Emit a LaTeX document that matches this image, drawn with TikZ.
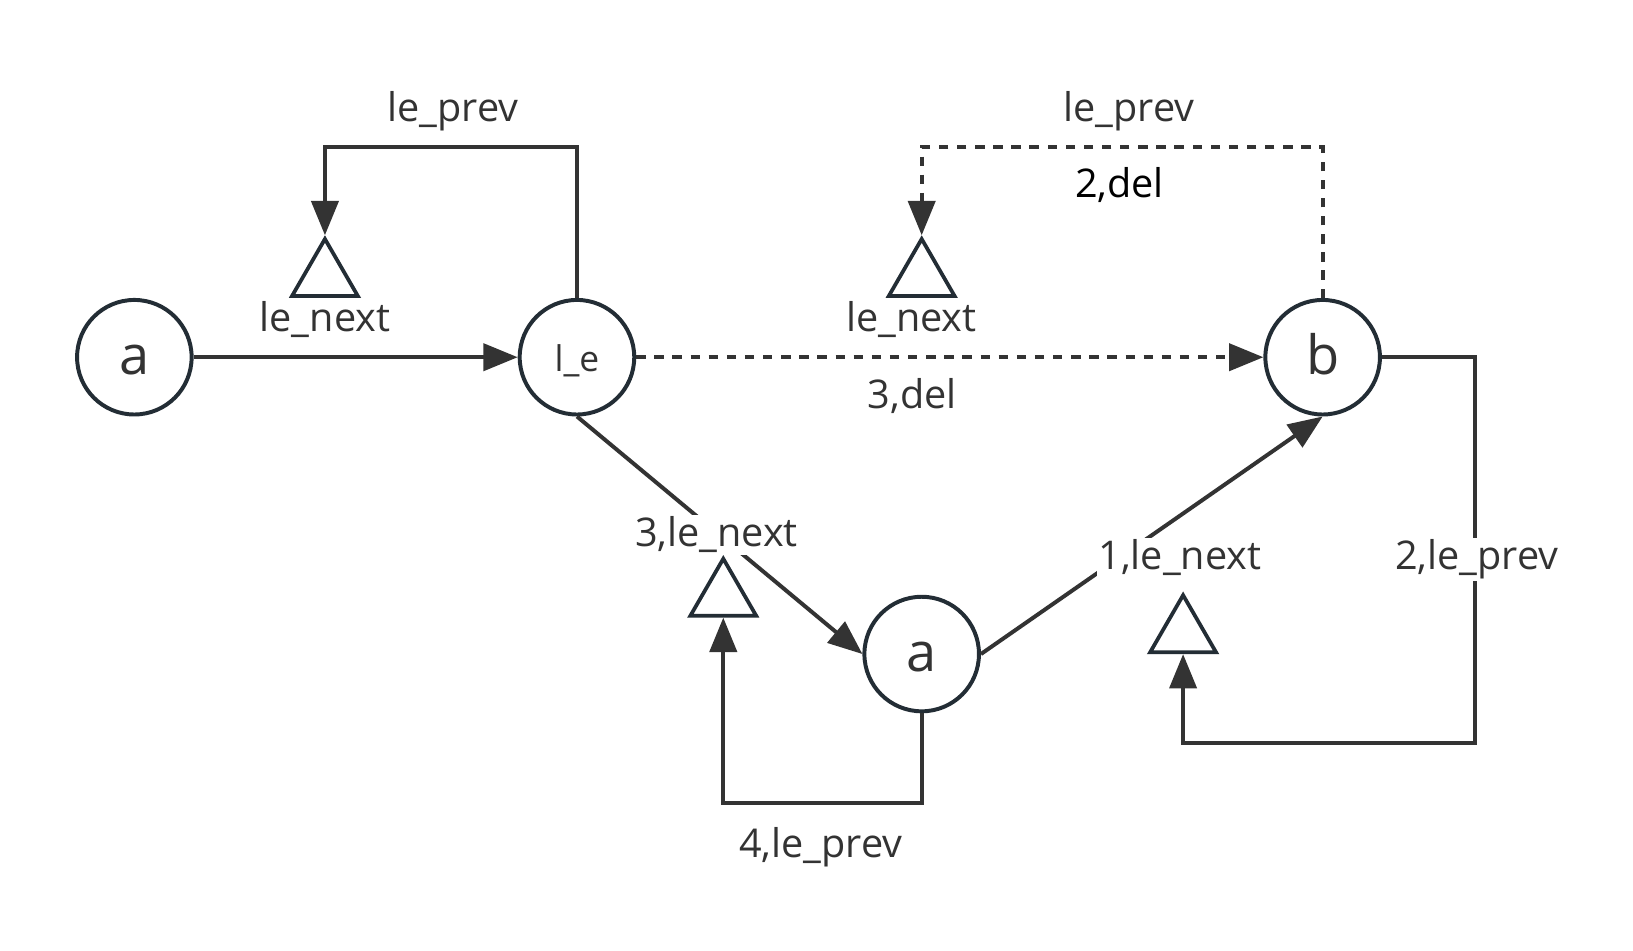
\documentclass[tikz,border=0pt]{standalone}
\usepackage{fontspec}
\setmainfont{Open Sans}
\usetikzlibrary{arrows.meta,shapes.geometric}
\definecolor{ln}{HTML}{333333}
\definecolor{sh}{HTML}{232D35}
\begin{document}
\begin{tikzpicture}[x=1pt,y=-1pt,
  state/.style={circle,draw=sh,line width=3.8pt,minimum size=110pt,inner sep=0pt,text=ln},
  bigtxt/.style={font=\fontsize{52}{52}\selectfont,text height=35pt,text depth=1pt},
  smalltxt/.style={font=\fontsize{34}{34}\selectfont,text height=27pt,text depth=0pt},
  tri/.style={regular polygon,regular polygon sides=3,draw=sh,line width=3.6pt,minimum size=73pt,inner sep=0pt},
  conn/.style={draw=ln,line width=3.8pt},
  tip/.style={-{Triangle[length=33pt,width=26pt]}},
  dash9/.style={dash pattern=on 9pt off 8.4pt},
  lbl/.style={text=ln,font=\fontsize{38}{40}\selectfont,anchor=base,inner sep=2pt,fill=white}
]
\useasboundingbox[fill=white] (0,0) rectangle (1568,913);

% states
\node[state,bigtxt] (a1) at (129,343) {a};
\node[state,smalltxt] (le) at (554,343) {l\_e};
\node[state,bigtxt] (b) at (1270,343) {b};
\node[state,bigtxt] (a2) at (885,628) {a};

% triangles
\node[tri] (T1) at (312,266) {};
\node[tri] (T2) at (885,266) {};
\node[tri] (T3) at (694.5,573) {};
\node[tri] (T4) at (1136,608) {};

\coordinate (r1) at (1416,713);
\coordinate (r2) at (694.5,771);

% connectors
\draw[conn,tip] (a1) -- (le);
\draw[conn,tip] (le.north) -- (le.north |- 0,141) -| (T1.corner 1);
\draw[conn,tip,dash9] (b.north) -- (b.north |- 0,141) -| (T2.corner 1);
\draw[conn,tip,dash9] (le) -- (b);
\draw[conn,tip] (le.south) -- (a2.west);
\draw[conn,tip] (a2.east) -- (b.south);
\draw[conn,tip] (b.east) -| (r1) -| (T4.side 2);
\draw[conn,tip] (a2.south) |- (r2) -- (T3.side 2);

% labels
\node[lbl] (L1) at (435,117) {le\_prev};
\node[lbl] (L2) at (312,318.5) {le\_next};
\node[lbl] (L3) at (1084,117) {le\_prev};
\node[lbl,text=black] (L4) at (1075,190) {2,del};
\node[lbl] (L5) at (875,318.5) {le\_next};
\node[lbl] (L6) at (876,392) {3,del};
\node[lbl] (L7) at (688,525) {3,le\_next};
\node[lbl] (L8) at (1133,547) {1,le\_next};
\node[lbl] (L9) at (1418,547) {2,le\_prev};
\node[lbl] (L10) at (788,823) {4,le\_prev};
\end{tikzpicture}
\end{document}
